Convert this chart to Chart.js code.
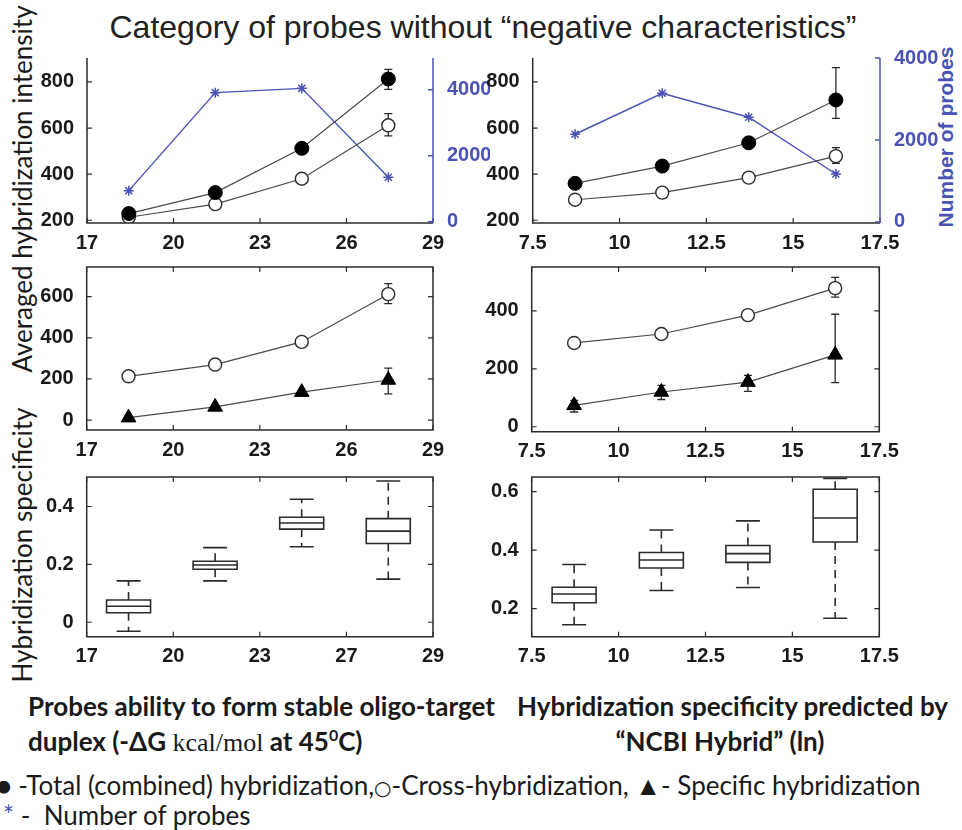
<!DOCTYPE html>
<html>
<head>
<meta charset="utf-8">
<script src="https://cdn.jsdelivr.net/npm/chart.js@4.4.1/dist/chart.umd.min.js"></script>
<style>
  html, body { margin: 0; padding: 0; background: #fff; }
  body { width: 962px; height: 830px; position: relative; overflow: hidden; color: #1a1a1a; }
  canvas { position: absolute; }
  .t { position: absolute; white-space: nowrap; transform: translate(0, -50%); }
  .c { position: absolute; white-space: nowrap; transform: translate(-50%, -50%); }
  .v { position: absolute; white-space: nowrap; transform: translate(-50%, -50%) rotate(-90deg); }
  .cal { font-family: Lato, "Noto Sans", sans-serif; }
  .blue { color: #4a52b5; }
  .sym { font-family: "DejaVu Sans", sans-serif; font-size: 20px; }
</style>
</head>
<body>

<div class="c" style="left:483px; top:27px; font: 32px 'Liberation Sans', Arial, sans-serif; color:#222;">Category of probes without “negative characteristics”</div>
<div class="v cal" style="left:22px; top:189px; font-size:26px;">Averaged hybridization intensity</div>
<div class="v cal" style="left:22px; top:545px; font-size:26px;">Hybridization specificity</div>
<div class="v blue" style="left:946px; top:137px; font: bold 21px 'Liberation Sans', Arial, sans-serif;">Number of probes</div>

<div class="t cal" style="left:28px; top:706px; font-size:26px; font-weight:bold;">Probes ability to form stable oligo-target</div>
<div class="t cal" style="left:28px; top:741px; font-size:26px; font-weight:bold;">duplex (-ΔG <span style="font-family:'Liberation Serif', serif; font-weight:normal;">kcal/mol</span> at 45<sup style="font-size:16px;">0</sup>C)</div>
<div class="t cal" style="left:517px; top:706px; font-size:26px; font-weight:bold;">Hybridization specificity predicted by</div>
<div class="c cal" style="left:720px; top:741px; font-size:26px; font-weight:bold;">“NCBI Hybrid” (ln)</div>

<div class="t cal" style="left:-4px; top:785px; font-size:26px;">● -Total (combined) hybridization,<span class="sym">○</span>-Cross-hybridization, ▲- Specific hybridization</div>
<div class="t cal" style="left:3px; top:815px; font-size:26px;"><span class="blue">*</span> -&nbsp; Number of probes</div>

<canvas id="p1" width="490" height="220" style="left:0; top:40px;"></canvas>
<canvas id="p2" width="512" height="220" style="left:450px; top:40px;"></canvas>
<canvas id="p3" width="480" height="215" style="left:0; top:250px;"></canvas>
<canvas id="p4" width="512" height="215" style="left:450px; top:250px;"></canvas>
<canvas id="p5" width="480" height="210" style="left:0; top:460px;"></canvas>
<canvas id="p6" width="512" height="210" style="left:450px; top:460px;"></canvas>

<script>
// x positions of the four probe groups
const dgX   = [18.45, 21.45, 24.45, 27.45];
const ncbiX = [8.72, 11.23, 13.72, 16.23];

// top row: averaged intensity (total, cross) and number of probes
const dgTotal    = [229, 320, 512, 813];
const dgTotalLo  = [null, null, null, 768];
const dgTotalHi  = [null, null, null, 855];
const dgCross    = [213, 270, 380, 612];
const dgCrossLo  = [null, null, null, 566];
const dgCrossHi  = [null, null, null, 663];
const dgProbes   = [940, 3910, 4040, 1345];

const ncbiTotal   = [360, 435, 536, 722];
const ncbiTotalLo = [null, null, null, 642];
const ncbiTotalHi = [null, null, null, 862];
const ncbiCross   = [289, 320, 385, 478];
const ncbiCrossLo = [null, null, null, 447];
const ncbiCrossHi = [null, null, null, 515];
const ncbiProbes  = [2140, 3140, 2555, 1170];

// middle row: specific hybridization
const dgSpecific     = [12, 64, 136, 195];
const dgSpecificLo   = [null, null, null, 128];
const dgSpecificHi   = [null, null, null, 253];
const ncbiSpecific   = [74, 120, 154, 248];
const ncbiSpecificLo = [51, 94, 122, 152];
const ncbiSpecificHi = [91, 143, 177, 388];

// bottom row: hybridization specificity box plots
const dgBoxMin = [-0.031, 0.143, 0.261, 0.149];
const dgBoxQ1  = [0.033, 0.183, 0.322, 0.272];
const dgBoxMed = [0.055, 0.198, 0.343, 0.315];
const dgBoxQ3  = [0.077, 0.211, 0.363, 0.358];
const dgBoxMax = [0.143, 0.258, 0.425, 0.488];

const ncbiBoxMin = [0.145, 0.262, 0.272, 0.167];
const ncbiBoxQ1  = [0.220, 0.339, 0.358, 0.428];
const ncbiBoxMed = [0.250, 0.366, 0.388, 0.510];
const ncbiBoxQ3  = [0.273, 0.392, 0.416, 0.608];
const ncbiBoxMax = [0.351, 0.469, 0.500, 0.645];

// tick values / labels
const dgTicks         = [17, 20, 23, 26, 29];
const dgBoxTickLabels = ['17', '20', '23', '27', '29'];
const ncbiTicks       = [7.5, 10, 12.5, 15, 17.5];
const intensityTicks  = [200, 400, 600, 800];
const probesTicks     = [0, 2000, 4000];
const dgSpecTicks     = [0, 200, 400, 600];
const ncbiSpecTicks   = [0, 200, 400];
const dgBoxTicks      = [0, 0.2, 0.4];
const ncbiBoxTicks    = [0.2, 0.4, 0.6];

const INK = '#2b2b2b';
const LINE = '#4a4a4a';
const BLUE = '#4a52b5';

Chart.defaults.font.family = '"Liberation Sans", Arial, sans-serif';
Chart.defaults.font.size = 20;
Chart.defaults.font.weight = 'bold';
Chart.defaults.color = '#1a1a1a';

function pts(xs, ys) { return xs.map((x, i) => ({ x: x, y: ys[i] })); }

function fixedTicks(values) {
    return s => { s.ticks = values.map(v => ({ value: v })); };
}

function axis(min, max, values, extra) {
    return Object.assign({
        type: 'linear', min: min, max: max,
        grid: { display: false }, border: { display: false },
        afterBuildTicks: fixedTicks(values),
        ticks: { padding: 5, callback: v => String(v) }
    }, extra || {});
}

function xAxis(min, max, values, h, labels) {
    return axis(min, max, values, {
        afterFit: s => { s.height = h; },
        ticks: { padding: 0, callback: labels ? (v, i) => labels[i] : v => String(v) }
    });
}

// MATLAB-like frame, inward tick marks, error bars and box plots
function matlabPlugin(cfg) {
    return {
        id: 'matlab',
        beforeDatasetsDraw(chart) {
            const ctx = chart.ctx;
            ctx.save();
            ctx.strokeStyle = INK;
            ctx.lineWidth = 1.3;
            chart.data.datasets.forEach((ds, i) => {
                if (!ds.errLo) return;
                const meta = chart.getDatasetMeta(i);
                ds.errLo.forEach((lo, j) => {
                    if (lo == null) return;
                    const x = meta.data[j].x;
                    const y1 = meta.yScale.getPixelForValue(lo);
                    const y2 = meta.yScale.getPixelForValue(ds.errHi[j]);
                    ctx.beginPath();
                    ctx.moveTo(x, y1); ctx.lineTo(x, y2);
                    ctx.moveTo(x - 4, y1); ctx.lineTo(x + 4, y1);
                    ctx.moveTo(x - 4, y2); ctx.lineTo(x + 4, y2);
                    ctx.stroke();
                });
            });
            if (cfg.box) {
                const b = cfg.box, xs = chart.scales.x, ys = chart.scales.y;
                ctx.lineWidth = 1.6;
                b.pos.forEach((p, i) => {
                    const x = xs.getPixelForValue(p);
                    const yMin = ys.getPixelForValue(b.min[i]), yQ1 = ys.getPixelForValue(b.q1[i]);
                    const yMed = ys.getPixelForValue(b.med[i]), yQ3 = ys.getPixelForValue(b.q3[i]);
                    const yMax = ys.getPixelForValue(b.max[i]);
                    ctx.setLineDash([8, 6]);
                    ctx.beginPath();
                    ctx.moveTo(x, yQ3); ctx.lineTo(x, yMax);
                    ctx.moveTo(x, yQ1); ctx.lineTo(x, yMin);
                    ctx.stroke();
                    ctx.setLineDash([]);
                    ctx.beginPath();
                    ctx.moveTo(x - 12, yMax); ctx.lineTo(x + 12, yMax);
                    ctx.moveTo(x - 12, yMin); ctx.lineTo(x + 12, yMin);
                    ctx.rect(x - 22, yQ3, 44, yQ1 - yQ3);
                    ctx.moveTo(x - 22, yMed); ctx.lineTo(x + 22, yMed);
                    ctx.stroke();
                });
            }
            ctx.restore();
        },
        afterDraw(chart) {
            const ctx = chart.ctx, a = chart.chartArea;
            const L = 5;
            ctx.save();
            ctx.lineWidth = 1.5;
            ctx.strokeStyle = INK;
            ctx.beginPath();
            if (cfg.frame) {
                ctx.rect(a.left, a.top, a.right - a.left, a.bottom - a.top);
            } else {
                ctx.moveTo(a.left, a.top); ctx.lineTo(a.left, a.bottom); ctx.lineTo(a.right, a.bottom);
            }
            ctx.stroke();
            ctx.lineWidth = 1.2;
            ctx.beginPath();
            chart.scales.x.ticks.forEach(t => {
                const x = chart.scales.x.getPixelForValue(t.value);
                ctx.moveTo(x, a.bottom); ctx.lineTo(x, a.bottom - L);
                if (cfg.frame) { ctx.moveTo(x, a.top); ctx.lineTo(x, a.top + L); }
            });
            chart.scales.y.ticks.forEach(t => {
                const y = chart.scales.y.getPixelForValue(t.value);
                ctx.moveTo(a.left, y); ctx.lineTo(a.left + L, y);
                if (cfg.frame) { ctx.moveTo(a.right, y); ctx.lineTo(a.right - L, y); }
            });
            ctx.stroke();
            if (chart.scales.y2) {
                ctx.strokeStyle = BLUE;
                ctx.lineWidth = 1.5;
                ctx.beginPath();
                ctx.moveTo(a.right, a.top); ctx.lineTo(a.right, a.bottom);
                chart.scales.y2.ticks.forEach(t => {
                    const y = chart.scales.y2.getPixelForValue(t.value);
                    ctx.moveTo(a.right, y); ctx.lineTo(a.right - L, y);
                });
                ctx.stroke();
            }
            ctx.restore();
        }
    };
}

function totalSet(xs, ys, lo, hi) {
    return { data: pts(xs, ys), showLine: true, borderColor: LINE, borderWidth: 1.2,
             pointStyle: 'circle', pointRadius: 7, pointBackgroundColor: '#000',
             pointBorderColor: '#000', pointBorderWidth: 1, errLo: lo, errHi: hi, yAxisID: 'y' };
}
function crossSet(xs, ys, lo, hi) {
    return { data: pts(xs, ys), showLine: true, borderColor: LINE, borderWidth: 1.2,
             pointStyle: 'circle', pointRadius: 6.5, pointBackgroundColor: '#fff',
             pointBorderColor: INK, pointBorderWidth: 1.4, errLo: lo, errHi: hi, yAxisID: 'y' };
}
function specificSet(xs, ys, lo, hi) {
    return { data: pts(xs, ys), showLine: true, borderColor: LINE, borderWidth: 1.2,
             pointStyle: 'triangle', pointRadius: 8.5, pointBackgroundColor: '#000',
             pointBorderColor: '#000', pointBorderWidth: 1, errLo: lo, errHi: hi, yAxisID: 'y' };
}
function probesSet(xs, ys) {
    return { data: pts(xs, ys), showLine: true, borderColor: BLUE, borderWidth: 1.4,
             pointStyle: 'star', pointRadius: 5, pointBorderColor: BLUE,
             pointBorderWidth: 1.5, yAxisID: 'y2' };
}

function makeChart(id, datasets, scales, padding, cfg) {
    return new Chart(document.getElementById(id), {
        type: 'scatter',
        data: { datasets: datasets },
        options: {
            responsive: false,
            animation: false,
            layout: { padding: padding },
            plugins: { legend: { display: false }, tooltip: { enabled: false } },
            scales: scales
        },
        plugins: [matlabPlugin(cfg)]
    });
}

const fitW = w => s => { s.width = w; };

// top-left
makeChart('p1',
    [totalSet(dgX, dgTotal, dgTotalLo, dgTotalHi), crossSet(dgX, dgCross, dgCrossLo, dgCrossHi), probesSet(dgX, dgProbes)],
    {
        x: xAxis(17, 29, dgTicks, 37),
        y: axis(188, 904, intensityTicks, { position: 'left', afterFit: fitW(87) }),
        y2: axis(-40, 4960, probesTicks, { position: 'right', afterFit: fitW(57),
              ticks: { padding: 6, color: BLUE, callback: v => String(v) } })
    },
    { top: 18, right: 0, left: 0, bottom: 0 }, { frame: false });

// top-right
makeChart('p2',
    [totalSet(ncbiX, ncbiTotal, ncbiTotalLo, ncbiTotalHi), crossSet(ncbiX, ncbiCross, ncbiCrossLo, ncbiCrossHi), probesSet(ncbiX, ncbiProbes)],
    {
        x: xAxis(7.5, 17.5, ncbiTicks, 37),
        y: axis(188, 904, intensityTicks, { position: 'left', afterFit: fitW(82.7) }),
        y2: axis(-25, 4000, probesTicks, { position: 'right', afterFit: fitW(82),
              ticks: { padding: 6, color: BLUE, callback: v => String(v) } })
    },
    { top: 18, right: 0, left: 0, bottom: 0 }, { frame: false });

// middle-left
makeChart('p3',
    [crossSet(dgX, dgCross, dgCrossLo, dgCrossHi), specificSet(dgX, dgSpecific, dgSpecificLo, dgSpecificHi)],
    {
        x: xAxis(17, 29, dgTicks, 35),
        y: axis(-48, 744, dgSpecTicks, { position: 'left', afterFit: fitW(86.7) })
    },
    { top: 15, right: 47, left: 0, bottom: 0 }, { frame: true });

// middle-right
makeChart('p4',
    [crossSet(ncbiX, ncbiCross, ncbiCrossLo, ncbiCrossHi), specificSet(ncbiX, ncbiSpecific, ncbiSpecificLo, ncbiSpecificHi)],
    {
        x: xAxis(7.5, 17.5, ncbiTicks, 33.3),
        y: axis(-17, 551, ncbiSpecTicks, { position: 'left', afterFit: fitW(81.7) })
    },
    { top: 15, right: 82.7, left: 0, bottom: 0 }, { frame: true });

// bottom-left box plot
makeChart('p5',
    [{ data: pts(dgX, dgBoxMed), pointRadius: 0, showLine: false }],
    {
        x: xAxis(17, 29, dgTicks, 33.3, dgBoxTickLabels),
        y: axis(-0.05, 0.502, dgBoxTicks, { position: 'left', afterFit: fitW(86.7) })
    },
    { top: 11.7, right: 47, left: 0, bottom: 0 },
    { frame: true, box: { pos: dgX, min: dgBoxMin, q1: dgBoxQ1, med: dgBoxMed, q3: dgBoxQ3, max: dgBoxMax } });

// bottom-right box plot
makeChart('p6',
    [{ data: pts(ncbiX, ncbiBoxMed), pointRadius: 0, showLine: false }],
    {
        x: xAxis(7.5, 17.5, ncbiTicks, 33.3),
        y: axis(0.104, 0.65, ncbiBoxTicks, { position: 'left', afterFit: fitW(81.7) })
    },
    { top: 12.3, right: 82.7, left: 0, bottom: 0 },
    { frame: true, box: { pos: ncbiX, min: ncbiBoxMin, q1: ncbiBoxQ1, med: ncbiBoxMed, q3: ncbiBoxQ3, max: ncbiBoxMax } });
</script>
</body>
</html>
